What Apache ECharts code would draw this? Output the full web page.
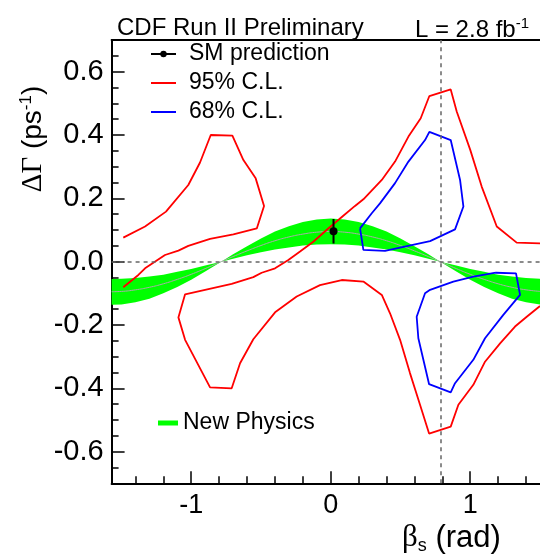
<!DOCTYPE html>
<html>
<head>
<meta charset="utf-8">
<script src="https://cdn.jsdelivr.net/npm/echarts@6/dist/echarts.min.js"></script>
<style>
  html, body { margin: 0; padding: 0; background: #fff; }
  #chart { width: 540px; height: 555px; }
</style>
</head>
<body>
<div id="chart"></div>
<script>
// axis ranges and ticks
const xMin = -1.5708;
const xMax = 1.5;
const yMin = -0.7;
const yMax = 0.7;
const xMajor = [-1, 0, 1];
const xMinor = [-1.4, -1.2, -0.8, -0.6, -0.4, -0.2, 0.2, 0.4, 0.6, 0.8, 1.2, 1.4];
const yMajor = [-0.6, -0.4, -0.2, 0, 0.2, 0.4, 0.6];
const yMinor = [-0.7, -0.65, -0.55, -0.5, -0.45, -0.35, -0.3, -0.25, -0.15, -0.1, -0.05,
  0.05, 0.1, 0.15, 0.25, 0.3, 0.35, 0.45, 0.5, 0.55, 0.65, 0.7];
const piQuarter = 0.785;

// new physics band (beta_s, lower, centre, upper)
const bandX = [-1.5708, -1.5, -1.4, -1.3, -1.2, -1.1, -1.0, -0.9, -0.785, -0.7, -0.6, -0.5, -0.4, -0.3, -0.2, -0.1, 0,
  0.1, 0.2, 0.3, 0.4, 0.5, 0.6, 0.7, 0.785, 0.9, 1.0, 1.1, 1.2, 1.3, 1.4, 1.5];
const bandLow = [-0.136, -0.135, -0.128, -0.117, -0.100, -0.080, -0.057, -0.031, 0, 0.009, 0.020, 0.030, 0.038, 0.045, 0.051, 0.054, 0.055,
  0.054, 0.051, 0.045, 0.038, 0.030, 0.020, 0.009, 0, -0.031, -0.057, -0.080, -0.100, -0.117, -0.128, -0.135];
const bandMid = [-0.095, -0.094, -0.089, -0.081, -0.070, -0.056, -0.040, -0.022, 0, 0.016, 0.034, 0.051, 0.066, 0.078, 0.087, 0.093, 0.095,
  0.093, 0.087, 0.078, 0.066, 0.051, 0.034, 0.016, 0, -0.022, -0.040, -0.056, -0.070, -0.081, -0.089, -0.094];
const bandHigh = [-0.055, -0.054, -0.052, -0.047, -0.041, -0.032, -0.023, -0.012, 0, 0.023, 0.049, 0.073, 0.095, 0.112, 0.125, 0.133, 0.136,
  0.133, 0.125, 0.112, 0.095, 0.073, 0.049, 0.023, 0, -0.012, -0.023, -0.032, -0.041, -0.047, -0.052, -0.054];

// SM prediction
const smPoint = [0.02, 0.096];
const smError = 0.039;

// 95% C.L. contours
const red95A = [[-1.487, 0.076], [-1.331, 0.111], [-1.181, 0.158], [-1.021, 0.242], [-0.937, 0.313], [-0.86, 0.4],
  [-0.705, 0.398], [-0.626, 0.321], [-0.538, 0.263], [-0.478, 0.176], [-0.53, 0.105], [-0.698, 0.086], [-0.865, 0.072],
  [-1.021, 0.05], [-1.092, 0.035], [-1.188, 0.021], [-1.331, -0.021], [-1.379, -0.042], [-1.487, -0.081]];
const red95B = [[1.5, 0.058], [1.333, 0.06], [1.19, 0.111], [1.082, 0.237], [1.0, 0.353], [0.903, 0.474], [0.86, 0.544],
  [0.707, 0.523], [0.645, 0.453], [0.557, 0.395], [0.461, 0.316], [0.366, 0.258], [0.234, 0.197], [0.174, 0.176],
  [0.09, 0.145], [-0.03, 0.1], [-0.125, 0.063], [-0.22, 0.032], [-0.304, 0.005], [-0.399, -0.021], [-0.495, -0.035],
  [-0.555, -0.049], [-0.71, -0.07], [-1.044, -0.103], [-1.092, -0.176], [-1.044, -0.247], [-0.865, -0.397], [-0.71, -0.4],
  [-0.65, -0.321], [-0.555, -0.245], [-0.399, -0.16], [-0.244, -0.11], [-0.077, -0.074], [0.079, -0.058], [0.234, -0.063],
  [0.366, -0.105], [0.425, -0.163], [0.497, -0.247], [0.568, -0.352], [0.64, -0.452], [0.705, -0.543], [0.86, -0.521],
  [0.915, -0.452], [1.022, -0.389], [1.106, -0.316], [1.214, -0.258], [1.321, -0.205], [1.405, -0.174], [1.5, -0.14]];

// 68% C.L. contours
const blue68A = [[0.21, 0.105], [0.234, 0.037], [0.389, 0.034], [0.712, 0.065], [0.891, 0.102], [0.951, 0.174],
  [0.927, 0.258], [0.86, 0.384], [0.707, 0.41], [0.676, 0.384], [0.557, 0.316], [0.461, 0.248], [0.353, 0.184],
  [0.294, 0.153], [0.21, 0.105]];
const blue68B = [[1.183, -0.035], [1.328, -0.037], [1.357, -0.105], [1.237, -0.168], [1.106, -0.242], [1.022, -0.31],
  [0.891, -0.384], [0.86, -0.413], [0.705, -0.387], [0.664, -0.31], [0.628, -0.242], [0.616, -0.174], [0.676, -0.1],
  [0.712, -0.089], [0.879, -0.063], [1.022, -0.047], [1.183, -0.035]];

const sans = 'Liberation Sans, Arial, sans-serif';
const serif = 'Liberation Serif, Times New Roman, serif';
// plain line icon for the contour legend entries
const lineIcon = 'path://M0,0 L25,0 L25,2 L0,2 Z';

let chart = echarts.init(document.getElementById('chart'));

function contour (name, data, color) {
  return {
    name: name,
    type: 'line',
    data: data,
    symbol: 'none',
    silent: true,
    color: color,
    lineStyle: { color: color, width: 1.8 },
    z: 4
  };
}

// one value axis, used for both ticks sets and the frame
function xAxisOf (pos, ticks, len, labels, line) {
  return {
    type: 'value',
    min: xMin,
    max: xMax,
    position: pos,
    axisLine: { show: line, onZero: false, lineStyle: { color: '#000', width: 2 } },
    axisTick: ticks ? { inside: true, length: len, customValues: ticks, lineStyle: { color: '#000', width: 1.5 } } : { show: false },
    axisLabel: labels ? { customValues: labels, fontSize: 27, margin: 9, color: '#000', fontFamily: sans } : { show: false },
    splitLine: { show: false }
  };
}

let option = {
  animation: false,
  backgroundColor: '#fff',
  textStyle: { fontFamily: sans },
  title: [
    {
      text: 'CDF Run II Preliminary',
      left: 112,
      top: 11,
      textStyle: { fontSize: 24, fontWeight: 'normal', color: '#000', fontFamily: sans }
    },
    {
      text: 'L = 2.8 fb{s|-1}',
      right: 6,
      top: 11,
      textStyle: {
        fontSize: 24,
        fontWeight: 'normal',
        color: '#000',
        fontFamily: sans,
        rich: { s: { fontSize: 15, fontFamily: sans, color: '#000', padding: [0, 0, 14, 0] } }
      }
    }
  ],
  legend: [
    {
      data: [
        { name: 'SM prediction', icon: 'inherit' },
        { name: '95% C.L.', icon: lineIcon },
        { name: '68% C.L.', icon: lineIcon }
      ],
      orient: 'vertical',
      left: 145,
      top: 36,
      itemWidth: 25,
      itemHeight: 8,
      itemGap: 3,
      selectedMode: false,
      textStyle: { fontSize: 23, lineHeight: 26, color: '#000', fontFamily: sans, padding: [0, 0, 0, 8] }
    },
    {
      data: ['New Physics'],
      left: 153,
      top: 405,
      icon: 'rect',
      itemWidth: 20,
      itemHeight: 5,
      selectedMode: false,
      textStyle: { fontSize: 23, lineHeight: 26, color: '#000', fontFamily: sans }
    }
  ],
  grid: { left: 111.6, right: 0, top: 40, bottom: 71.7 },
  xAxis: [
    xAxisOf('bottom', xMajor, 12, xMajor, true),
    xAxisOf('bottom', xMinor, 7, null, false),
    xAxisOf('top', null, 0, null, true)
  ],
  yAxis: [
    {
      type: 'value',
      min: yMin,
      max: yMax,
      position: 'left',
      axisLine: { onZero: false, lineStyle: { color: '#000', width: 2 } },
      axisTick: { inside: true, length: 13, customValues: yMajor, lineStyle: { color: '#000', width: 1.5 } },
      axisLabel: {
        customValues: yMajor,
        fontSize: 29,
        margin: 8,
        color: '#000',
        fontFamily: sans,
        padding: [8, 0, 0, 0],
        formatter: v => v.toFixed(1)
      },
      splitLine: { show: false }
    },
    {
      type: 'value',
      min: yMin,
      max: yMax,
      position: 'left',
      axisLine: { show: false, onZero: false },
      axisTick: { inside: true, length: 7, customValues: yMinor, lineStyle: { color: '#000', width: 1.5 } },
      axisLabel: { show: false },
      splitLine: { show: false }
    }
  ],
  graphic: [
    {
      type: 'text',
      x: 33,
      y: 139,
      rotation: Math.PI / 2,
      style: {
        text: '{g|ΔΓ} (ps{s|-1})',
        fontSize: 28,
        fontFamily: sans,
        fill: '#000',
        align: 'center',
        verticalAlign: 'middle',
        rich: {
          g: { fontSize: 29, fontFamily: serif, fill: '#000' },
          s: { fontSize: 17, fontFamily: sans, fill: '#000', padding: [0, 0, 14, 0] }
        }
      }
    },
    {
      type: 'text',
      x: 402,
      y: 538,
      style: {
        text: '{b|β}{s|s} (rad)',
        fontSize: 31,
        fontFamily: sans,
        fill: '#000',
        align: 'left',
        verticalAlign: 'middle',
        rich: {
          b: { fontSize: 31, fontFamily: serif, fill: '#000' },
          s: { fontSize: 18, fontFamily: sans, fill: '#000', padding: [16, 0, 0, 0] }
        }
      }
    }
  ],
  series: [
    {
      name: 'New Physics',
      type: 'custom',
      silent: true,
      data: [[0, 0]],
      itemStyle: { color: '#00ff00' },
      z: 1,
      renderItem: function (params, api) {
        let pts = [];
        for (let i = 0; i < bandX.length; i++) pts.push(api.coord([bandX[i], bandHigh[i]]));
        for (let i = bandX.length - 1; i >= 0; i--) pts.push(api.coord([bandX[i], bandLow[i]]));
        return { type: 'polygon', shape: { points: pts }, style: { fill: '#00ff00' } };
      }
    },
    {
      name: 'band centre',
      type: 'line',
      data: bandX.map((x, i) => [x, bandMid[i]]),
      symbol: 'none',
      smooth: true,
      silent: true,
      lineStyle: { color: '#aaaaaa', width: 1 },
      z: 2,
      markLine: {
        silent: true,
        symbol: ['none', 'none'],
        label: { show: false },
        lineStyle: { color: '#666', type: [4, 4], width: 1.5 },
        data: [{ yAxis: 0 }, { xAxis: piQuarter }]
      }
    },
    contour('95% C.L.', red95A, '#ff0000'),
    contour('95% C.L.', red95B, '#ff0000'),
    contour('68% C.L.', blue68A, '#0000ff'),
    contour('68% C.L.', blue68B, '#0000ff'),
    {
      name: 'SM error',
      type: 'line',
      data: [[smPoint[0], smPoint[1] - smError], [smPoint[0], smPoint[1] + smError]],
      symbol: 'none',
      silent: true,
      lineStyle: { color: '#000', width: 2 },
      z: 5
    },
    {
      name: 'SM prediction',
      type: 'line',
      data: [smPoint],
      symbol: 'circle',
      symbolSize: 8,
      silent: true,
      itemStyle: { color: '#000' },
      lineStyle: { color: '#000', width: 2 },
      z: 6
    }
  ]
};

chart.setOption(option);
</script>
</body>
</html>
